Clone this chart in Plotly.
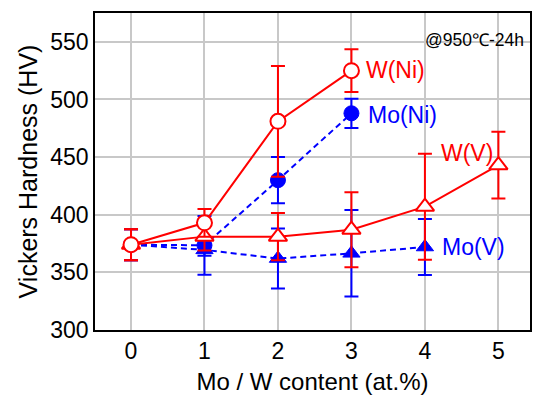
import plotly.graph_objects as go

# ---- data ----
x_ni = [0, 1, 2, 3]
x_v = [0, 1, 2, 3, 4, 5]
x_mov = [0, 1, 2, 3, 4]

w_ni = [374, 393, 481, 525]
w_ni_err = [13.5, 12, 48, 18.5]

mo_ni = [374, 373.5, 430, 488]
mo_ni_err = [13.5, 25.5, 20, 12.7]

w_v = [374, 381, 381, 387, 407, 443]
w_v_err = [13.5, 12, 20.5, 32.5, 46, 29]

mo_v = [374, 369.5, 362, 366.5, 372]
mo_v_err = [13.5, 5, 26, 37.5, 24.3]

x_ticks = [0, 1, 2, 3, 4, 5]
y_ticks = [300, 350, 400, 450, 500, 550]

labels = ["W(Ni)", "Mo(Ni)", "W(V)", "Mo(V)"]
label_x = [3.17, 3.2, 4.19, 4.2]
label_y = [525.7, 486.6, 453.6, 372.3]
label_colors = ["#ff0000", "#0000ff", "#ff0000", "#0000ff"]

RED = "#ff0000"
BLUE = "#0000ff"
FONT = "Liberation Sans, Arial, sans-serif"

fig = go.Figure()

def err(vals, color):
    return dict(type="data", array=vals, visible=True, color=color,
                thickness=2, width=7)

# blue series first (drawn underneath)
fig.add_trace(go.Scatter(
    x=x_mov, y=mo_v, mode="lines+markers",
    line=dict(color=BLUE, width=2, dash="6px,4px"),
    marker=dict(symbol="triangle-up", size=15, color=BLUE,
                line=dict(color=BLUE, width=1)),
    error_y=err(mo_v_err, BLUE), showlegend=False))
fig.add_trace(go.Scatter(
    x=x_ni, y=mo_ni, mode="lines+markers",
    line=dict(color=BLUE, width=2, dash="6px,4px"),
    marker=dict(symbol="circle", size=15, color=BLUE,
                line=dict(color=BLUE, width=1)),
    error_y=err(mo_ni_err, BLUE), showlegend=False))
fig.add_trace(go.Scatter(
    x=x_v, y=w_v, mode="lines+markers",
    line=dict(color=RED, width=2),
    marker=dict(symbol="triangle-up", size=16, color="white",
                line=dict(color=RED, width=2)),
    error_y=err(w_v_err, RED), showlegend=False))
fig.add_trace(go.Scatter(
    x=x_ni, y=w_ni, mode="lines+markers",
    line=dict(color=RED, width=2),
    marker=dict(symbol="circle", size=15, color="white",
                line=dict(color=RED, width=2)),
    error_y=err(w_ni_err, RED), showlegend=False))

for t, lx, ly, c in zip(labels, label_x, label_y, label_colors):
    fig.add_annotation(x=lx, y=ly, text=t, showarrow=False,
                       xanchor="left", yanchor="middle",
                       font=dict(family=FONT, size=23, color=c))

fig.add_annotation(x=3.97, y=551.7, text="@950℃-24h", showarrow=False,
                   xanchor="left", yanchor="middle",
                   font=dict(family=FONT, size=17.5, color="black"))

fig.update_xaxes(range=[-0.49, 5.43], tickvals=x_ticks,
                 showgrid=True, gridcolor="#c8c8c8", gridwidth=1.5,
                 zeroline=False, showline=True, linecolor="black",
                 linewidth=1.5, mirror=True, ticks="",
                 tickfont=dict(family=FONT, size=23, color="black"),
                 title=dict(text="Mo / W content (at.%)",
                            font=dict(family=FONT, size=24, color="black"),
                            standoff=12))
fig.update_yaxes(range=[300, 575], tickvals=y_ticks,
                 showgrid=True, gridcolor="#c8c8c8", gridwidth=1.5,
                 zeroline=False, showline=True, linecolor="black",
                 linewidth=1.5, mirror=True, ticks="",
                 tickfont=dict(family=FONT, size=23, color="black"),
                 title=dict(text="Vickers Hardness (HV)",
                            font=dict(family=FONT, size=25, color="black"),
                            standoff=6))

fig.update_layout(width=533, height=395,
                  margin=dict(l=95, r=1, t=13, b=65),
                  paper_bgcolor="white", plot_bgcolor="white")

fig.write_html("out.html")
